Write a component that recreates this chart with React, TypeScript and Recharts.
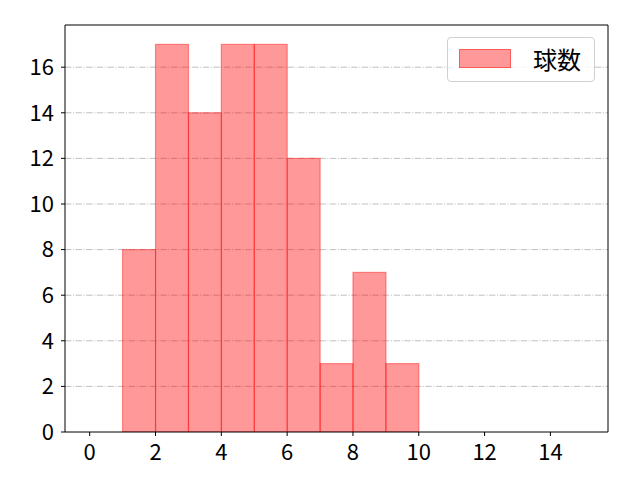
import React from "react";
import {
  ComposedChart,
  Bar,
  XAxis,
  YAxis,
  CartesianGrid,
  Legend,
  ReferenceLine,
} from "recharts";

const binStarts = [1, 2, 3, 4, 5, 6, 7, 8, 9];
const binCounts = [8, 17, 14, 17, 17, 12, 3, 7, 3];
const xTicks = [0, 2, 4, 6, 8, 10, 12, 14];
const yTicks = [0, 2, 4, 6, 8, 10, 12, 14, 16];
const xDomain: [number, number] = [-0.75, 15.75];
const yDomain: [number, number] = [0, 17.85];
const seriesName = "球数";

const data = binStarts.map((s, i) => ({ x: s + 0.5, count: binCounts[i] }));

const FONT = "'Noto Sans CJK JP', 'Noto Sans', sans-serif";

const HistBar = (props: any) => {
  const { x, y, width, height, xAxis } = props;
  if (!height || height <= 0) return null;
  let left = x;
  let w = width;
  if (xAxis && xAxis.scale && props.payload) {
    const c = props.payload.x;
    left = xAxis.scale(c - 0.5);
    w = xAxis.scale(c + 0.5) - left;
  }
  return (
    <rect
      x={left}
      y={y}
      width={w}
      height={height}
      fill="rgb(255,0,0)"
      fillOpacity={0.4}
      stroke="rgb(255,0,0)"
      strokeOpacity={0.4}
      strokeWidth={1.2}
    />
  );
};

const LegendBox = () => (
  <div
    style={{
      position: "absolute",
      left: 447,
      top: 37,
      width: 148,
      height: 45,
      boxSizing: "border-box",
      border: "1px solid #d0d0d0",
      borderRadius: 4,
      background: "rgba(255,255,255,0.8)",
      fontFamily: FONT,
    }}
  >
    <div
      style={{
        position: "absolute",
        left: 11,
        top: 11,
        width: 52,
        height: 19,
        boxSizing: "border-box",
        background: "rgba(255,0,0,0.4)",
        border: "1px solid rgba(255,0,0,0.4)",
      }}
    />
    <div
      style={{
        position: "absolute",
        left: 85,
        top: 4,
        fontSize: 24,
        lineHeight: "34px",
        color: "#000",
      }}
    >
      {seriesName}
    </div>
  </div>
);

export default function App() {
  return (
    <div style={{ position: "absolute", left: 0, top: 0, width: 640, height: 480, background: "#fff" }}>
      <ComposedChart
        width={640}
        height={480}
        data={data}
        margin={{ top: 25, right: 32, bottom: 18, left: 14 }}
        barGap={0}
        barCategoryGap={0}
      >
        <CartesianGrid
          xAxisId="b"
          yAxisId="l"
          vertical={false}
          horizontalValues={yTicks.filter((t) => t > 0)}
          stroke="#b0b0b0"
          strokeDasharray="6.4 1.6 1 1.6"
          strokeWidth={0.8}
        />
        <XAxis
          xAxisId="b"
          dataKey="x"
          type="number"
          domain={xDomain}
          ticks={xTicks}
          allowDataOverflow
          interval={0}
          tickSize={4}
          tickMargin={8}
          height={30}
          axisLine={{ stroke: "#000", strokeWidth: 1 }}
          tickLine={{ stroke: "#000", strokeWidth: 1 }}
          tick={{ fill: "#000", fontSize: 22, fontFamily: FONT }}
        />
        <YAxis
          yAxisId="l"
          type="number"
          domain={yDomain}
          ticks={yTicks}
          allowDataOverflow
          interval={0}
          width={51}
          tickSize={4}
          tickMargin={7}
          axisLine={{ stroke: "#000", strokeWidth: 1 }}
          tickLine={{ stroke: "#000", strokeWidth: 1 }}
          tick={{ fill: "#000", fontSize: 22, fontFamily: FONT }}
        />
        <ReferenceLine xAxisId="b" yAxisId="l" y={yDomain[1]} stroke="#000" strokeWidth={1} />
        <ReferenceLine xAxisId="b" yAxisId="l" x={xDomain[1]} stroke="#000" strokeWidth={1} />
        <Legend content={() => <LegendBox />} wrapperStyle={{ position: "absolute", left: 0, top: 0, width: 0, height: 0 }} />
        <Bar
          xAxisId="b"
          yAxisId="l"
          dataKey="count"
          name={seriesName}
          shape={<HistBar />}
          isAnimationActive={false}
        />
      </ComposedChart>
    </div>
  );
}
